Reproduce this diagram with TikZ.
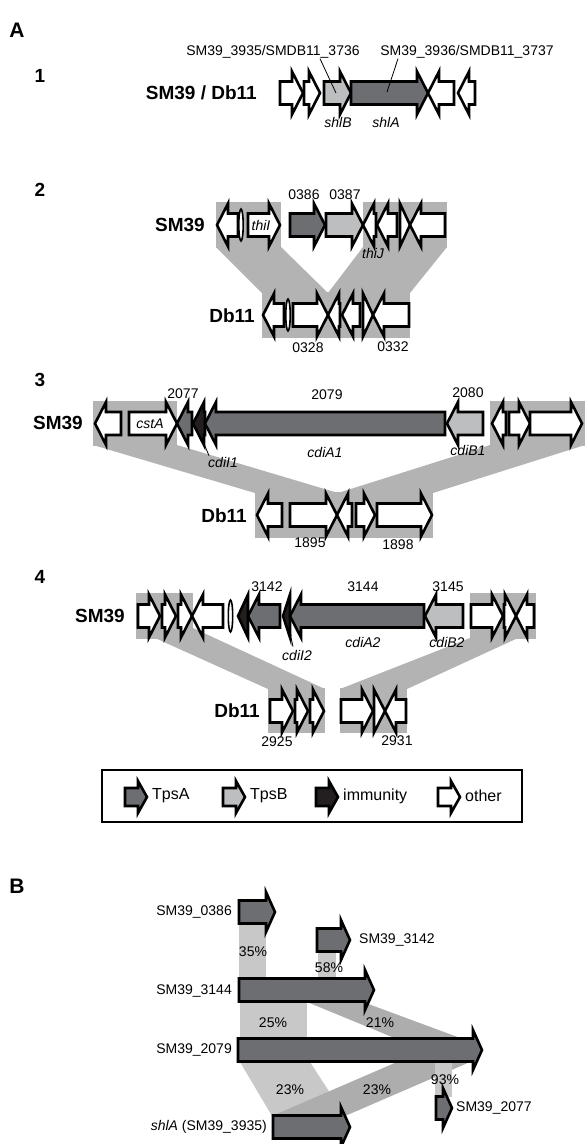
\documentclass[tikz,border=0pt]{standalone}
\usepackage{fontspec}
\setmainfont{Liberation Sans}
\usepackage{tikz}
\usetikzlibrary{arrows.meta}
\definecolor{tpsacol}{HTML}{6D6E71}
\definecolor{tpsbcol}{HTML}{BCBEC0}
\definecolor{immcol}{HTML}{231F20}
\definecolor{shadecol}{HTML}{B3B3B3}
\definecolor{bandlight}{HTML}{C8C8C8}
\definecolor{banddark}{HTML}{ADADAD}

% gene arrows: fill, start, tip, y  /  fill, tip, end, y
\newcommand{\genR}[4]{%
  \pgfmathsetmacro\gx{max(#2,#3-\ghl)}%
  \filldraw[gene,fill=#1] (#2,#4-\gbh) -- (\gx,#4-\gbh) -- (\gx,#4-\ghh) -- (#3,#4)
    -- (\gx,#4+\ghh) -- (\gx,#4+\gbh) -- (#2,#4+\gbh) -- cycle;}
\newcommand{\genL}[4]{%
  \pgfmathsetmacro\gx{min(#3,#2+\ghl)}%
  \filldraw[gene,fill=#1] (#3,#4-\gbh) -- (\gx,#4-\gbh) -- (\gx,#4-\ghh) -- (#2,#4)
    -- (\gx,#4+\ghh) -- (\gx,#4+\gbh) -- (#3,#4+\gbh) -- cycle;}
\newcommand{\genT}[2]{%
  \filldraw[draw=black,line width=1.6pt,fill=white] (#1,#2) ellipse [x radius=2.2, y radius=16];}

\tikzset{
  gene/.style={draw=black,line width=2.6pt},
  lbl/.style={font=\fontsize{14}{16}\selectfont,inner sep=0pt},
  glbl/.style={font=\fontsize{14}{16}\selectfont\itshape,inner sep=0pt},
  rowlbl/.style={font=\fontsize{19}{22}\selectfont\bfseries,inner sep=0pt,anchor=east},
  numlbl/.style={font=\fontsize{19}{22}\selectfont\bfseries,inner sep=0pt},
  panlbl/.style={font=\fontsize{21}{24}\selectfont\bfseries,inner sep=0pt},
  leglbl/.style={font=\fontsize{16}{18}\selectfont,inner sep=0pt,anchor=west},
  leader/.style={line width=0.8pt},
}

\begin{document}
\begin{tikzpicture}[x=1pt,y=-1pt]
\useasboundingbox (0,0) rectangle (585,1144);
\def\gbh{11.5}\def\ghh{21.5}\def\ghl{11}

\node[panlbl] (pA) at (17,30) {A};

% --- 1
\node[numlbl] (n1) at (40,76) {1};
\node[rowlbl] (r1) at (257,93) {SM39 / Db11};
\foreach \f/\a/\b in {white/280/303,white/304/320,tpsbcol/324/351,tpsacol/351/428}
  \genR{\f}{\a}{\b}{93};
\genL{white}{428}{454}{93}
\genL{white}{458}{475}{93}
\node[lbl] (lbla) at (273,52) {SM39\_3935/SMDB11\_3736};
\node[lbl] (lblb) at (467,52) {SM39\_3936/SMDB11\_3737};
\coordinate (shlBpt) at (336,93);
\coordinate (shlApt) at (387,92);
\draw[leader] ([xshift=47pt]lbla.south) -- (shlBpt);
\draw[leader] ([xshift=-69pt]lblb.south) -- (shlApt);
\node[glbl] (shlB) at (338,122) {shlB};
\node[glbl] (shlA) at (386,122) {shlA};

% --- 2
\node[numlbl] (n2) at (40,190) {2};
\fill[shadecol] (216,202) rectangle (281,248);
\fill[shadecol] (363,202) rectangle (447,248);
\fill[shadecol] (262,292) rectangle (410,338);
\fill[shadecol] (216,247) -- (281,247) -- (328,293) -- (262,293) -- cycle;
\fill[shadecol] (363,247) -- (447,247) -- (410,293) -- (328,293) -- cycle;
\node[rowlbl] (r2a) at (205,225) {SM39};
\node[rowlbl] (r2b) at (255,316) {Db11};
\genL{white}{217}{238}{225}
\genT{241}{225}
\foreach \f/\a/\b in {white/248/280,tpsacol/290/325,tpsbcol/326/363,white/400/410}
  \genR{\f}{\a}{\b}{225};
\foreach \a/\b in {363/376,377/397,410/445}
  \genL{white}{\a}{\b}{225};
\genL{white}{263}{284}{315}
\genT{288}{315}
\genR{white}{293}{328}{315}
\genR{white}{363}{373}{315}
\foreach \a/\b in {328/340,342/360,373/409}
  \genL{white}{\a}{\b}{315};
\node[glbl] (thiI) at (261,225) {thiI};
\node[glbl] (thiJ) at (373,253) {thiJ};
\node[lbl] (g0386) at (304,195) {0386};
\node[lbl] (g0387) at (345,195) {0387};
\node[lbl] (g0328) at (308,348) {0328};
\node[lbl] (g0332) at (393,347) {0332};

% --- 3
\node[numlbl] (n3) at (40,380) {3};
\fill[shadecol] (93,401) rectangle (177,446);
\fill[shadecol] (490,401) rectangle (585,446);
\fill[shadecol] (255,492) rectangle (433,538);
\fill[shadecol] (93,445) -- (177,445) -- (338,493) -- (255,493) -- cycle;
\fill[shadecol] (490,445) -- (585,445) -- (433,493) -- (338,493) -- cycle;
\node[rowlbl] (r3a) at (83,423) {SM39};
\node[rowlbl] (r3b) at (247,516) {Db11};
\genL{white}{95}{121}{423.5}
\genR{white}{129}{177}{423.5}
\genL{tpsacol}{177}{192}{423.5}
\genL{immcol}{193}{205}{423.5}
\genL{tpsacol}{205}{445}{423.5}
\genL{tpsbcol}{447}{483}{423.5}
\genL{white}{492}{506}{423.5}
\genR{white}{509}{530}{423.5}
\genR{white}{530}{582}{423.5}
\genL{white}{257}{282}{515}
\genR{white}{290}{337}{515}
\genL{white}{337}{352}{515}
\genR{white}{356}{375}{515}
\genR{white}{377}{432}{515}
\node[glbl] (cstA) at (150,423.5) {cstA};
\node[lbl] (g2077) at (183,394) {2077};
\node[lbl] (g2079) at (327,395) {2079};
\node[lbl] (g2080) at (468,393) {2080};
\node[glbl] (cdiAa) at (325,452) {cdiA1};
\node[glbl] (cdiBa) at (468,450) {cdiB1};
\node[glbl] (cdiIa) at (223,462) {cdiI1};
\coordinate (cdiIapt) at (202,439);
\draw[leader,-{Stealth[length=3pt,width=2.5pt]}] ([shift={(1,-1)}]cdiIa.north west) -- (cdiIapt);
\node[lbl] (g1895) at (310,543) {1895};
\node[lbl] (g1898) at (398,545) {1898};

% --- 4
\node[numlbl] (n4) at (40,577) {4};
\fill[shadecol] (136,593) rectangle (193,639);
\fill[shadecol] (470,593) rectangle (536,639);
\fill[shadecol] (268,688) rectangle (325,733);
\fill[shadecol] (340,688) rectangle (407,733);
\fill[shadecol] (155,638) -- (193,628) -- (325,689) -- (268,689) -- cycle;
\fill[shadecol] (340,689) -- (470,638) -- (518,638) -- (407,689) -- cycle;
\node[rowlbl] (r4a) at (125,616) {SM39};
\node[rowlbl] (r4b) at (260,711) {Db11};
\foreach \a/\b in {138/160,162/176,178/192,471/503,504/516}
  \genR{white}{\a}{\b}{616};
\genL{white}{192}{223}{616}
\genT{230.5}{616}
\genL{immcol}{238}{248}{616}
\genL{tpsacol}{248}{280}{616}
\genL{immcol}{283}{290}{616}
\genL{tpsacol}{290}{424}{616}
\genL{tpsbcol}{425}{463}{616}
\genL{white}{516}{534}{616}
\foreach \a/\b in {270/293,295/308,310/324,341/373,374/385}
  \genR{white}{\a}{\b}{711};
\genL{white}{385}{406}{711}
\node[lbl] (g3142) at (267,587) {3142};
\node[lbl] (g3144) at (363,587) {3144};
\node[lbl] (g3145) at (448,587) {3145};
\node[glbl] (cdiAb) at (363,642) {cdiA2};
\node[glbl] (cdiBb) at (447,642) {cdiB2};
\node[glbl] (cdiIb) at (297,655) {cdiI2};
\coordinate (cdiIbpt) at (290,633);
\draw[leader,-{Stealth[length=3pt,width=2.5pt]}] ([shift={(11,-3)}]cdiIb.north west) -- (cdiIbpt);
\node[lbl] (g2925) at (277,742) {2925};
\node[lbl] (g2931) at (397,741) {2931};

% --- legend
\draw[line width=2pt] (102,770) rectangle (522,822);
\begin{scope}
  \def\gbh{9}\def\ghh{16}\def\ghl{9}
  \foreach \f/\a/\t/\n in {tpsacol/125/TpsA/lgA,tpsbcol/223/TpsB/lgB,immcol/316/immunity/lgI,white/438/other/lgO}{
    \genR{\f}{\a}{\a+22}{797}
    \node[leglbl] (\n) at (\a+27,796) {\t};
  }
\end{scope}

% --- B
\node[panlbl] (pB) at (17,886) {B};
\fill[bandlight] (239,923) rectangle (266,978);
\fill[bandlight] (318,952) rectangle (336,978);
\fill[bandlight] (240,1002) rectangle (307,1039);
\fill[banddark] (307,1002) -- (363,1002) -- (463,1039) -- (397,1039) -- cycle;
\fill[bandlight] (240,1062) -- (310,1062) -- (345,1116) -- (272,1116) -- cycle;
\fill[banddark] (272,1116) -- (345,1116) -- (470,1062) -- (397,1062) -- cycle;
\fill[bandlight] (435,1062) rectangle (452,1097);
\begin{scope}
  \def\gbh{11.5}\def\ghh{20}\def\ghl{9}
  \foreach \a/\b/\y in {239/275/912,317/350/940,239/374/990,238/482/1050,436/452/1108,273/350/1127}
    \genR{tpsacol}{\a}{\b}{\y};
\end{scope}
\node[lbl,anchor=east] (b0386) at (232,912) {SM39\_0386};
\node[lbl,anchor=west] (b3142) at (359,940) {SM39\_3142};
\node[lbl,anchor=east] (b3144) at (232,991) {SM39\_3144};
\node[lbl,anchor=east] (b2079) at (232,1050) {SM39\_2079};
\node[lbl,anchor=west] (b2077) at (456,1108) {SM39\_2077};
\node[lbl,anchor=east] (bshlA) at (267,1127) {\textit{shlA} (SM39\_3935)};
\node[lbl] (p35) at (253,952) {35\%};
\node[lbl] (p58) at (329,968) {58\%};
\node[lbl] (p25) at (273,1023) {25\%};
\node[lbl] (p21) at (380,1023) {21\%};
\node[lbl] (p23a) at (290,1090) {23\%};
\node[lbl] (p23b) at (377,1090) {23\%};
\node[lbl] (p93) at (445,1080) {93\%};
\end{tikzpicture}
\end{document}
